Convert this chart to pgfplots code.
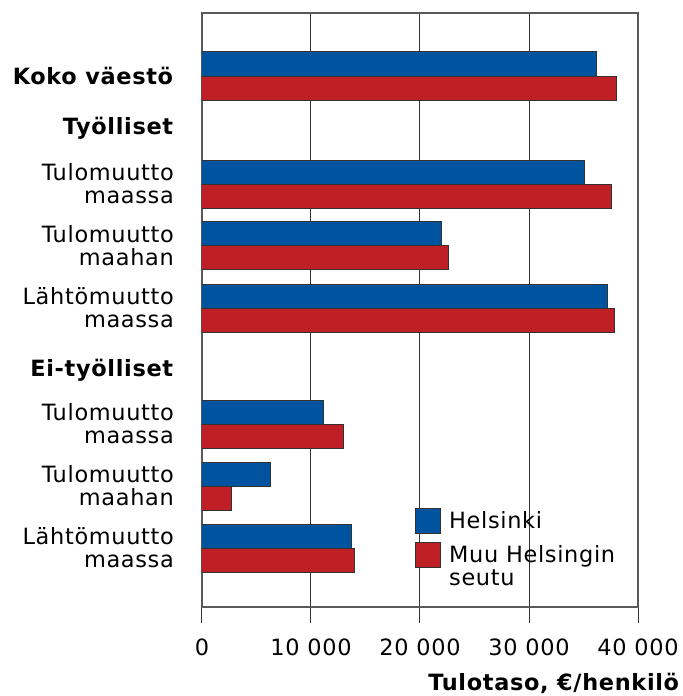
\documentclass[border=0pt]{standalone}
\usepackage{pgfplots}
\pgfplotsset{compat=1.18}
\usepackage{fontspec}
\setmainfont{DejaVu Sans}[LetterSpace=3]
\definecolor{hblue}{RGB}{0,84,159}
\definecolor{hred}{RGB}{190,32,38}
\definecolor{edge}{RGB}{50,50,50}
\begin{document}
\begin{tikzpicture}
\useasboundingbox (-202bp,-89bp) rectangle (481bp,607bp);
\begin{axis}[
  scale only axis,
  width=436bp, height=594bp,
  xmin=0, xmax=40000,
  ymin=13, ymax=607,
  y dir=reverse,
  xbar, bar width=24,
  scaled x ticks=false,
  xtick={0,10000,20000,30000,40000},
  xticklabels={0,10 000,20 000,30 000,40 000},
  ytick={76,128,184,245.5,308,370,424,486,548},
  yticklabels={{\textbf{Koko väestö}},{\textbf{Työlliset}},{Tulomuutto\\maassa},{Tulomuutto\\maahan},{Lähtömuutto\\maassa},{\textbf{Ei-työlliset}},{Tulomuutto\\maassa},{Tulomuutto\\maahan},{Lähtömuutto\\maassa}},
  tick align=outside,
  major tick length=16bp,
  xtick pos=bottom,
  ytick style={draw=none},
  xtick style={draw=edge, line width=1bp},
  xmajorgrids,
  major grid style={draw=edge, line width=1bp},
  axis line style={draw=gray!70!black, line width=1.3bp},
  tick label style={font=\fontsize{22.5}{23}\selectfont},
  xticklabel style={inner sep=0pt, yshift=-16bp},
  yticklabel style={align=right, inner sep=0pt, xshift=-12bp},
  xlabel={\textbf{Tulotaso, €/henkilö}},
  xlabel style={font=\fontsize{22.5}{23}\selectfont, inner sep=0pt, anchor=north east, at={(axis description cs:1,0)}, xshift=42bp, yshift=-66bp},
  legend style={draw=none, fill=none, inner sep=0pt, at={(0.4885,0.1667)}, anchor=north west, font=\fontsize{22.5}{23}\selectfont, row sep=8bp, column sep=6bp, cells={anchor=base west}},
  legend image code/.code={\draw[#1] (0bp,-5bp) rectangle (25bp,20bp);},
]
\addplot[fill=hblue, draw=edge, line width=1bp, bar shift=-12] coordinates {
  (36150,76) (35050,184) (22000,245.5) (37220,308) (11190,424) (6240,486) (13760,548)};
\addlegendentry{Helsinki}
\addplot[fill=hred, draw=edge, line width=1bp, bar shift=12] coordinates {
  (38070,76) (37590,184) (22660,245.5) (37830,308) (12960,424) (2720,486) (14010,548)};
\addlegendentry{\begin{tabular}[t]{@{}l@{}}Muu Helsingin\\seutu\end{tabular}}
\end{axis}
\end{tikzpicture}
\end{document}
